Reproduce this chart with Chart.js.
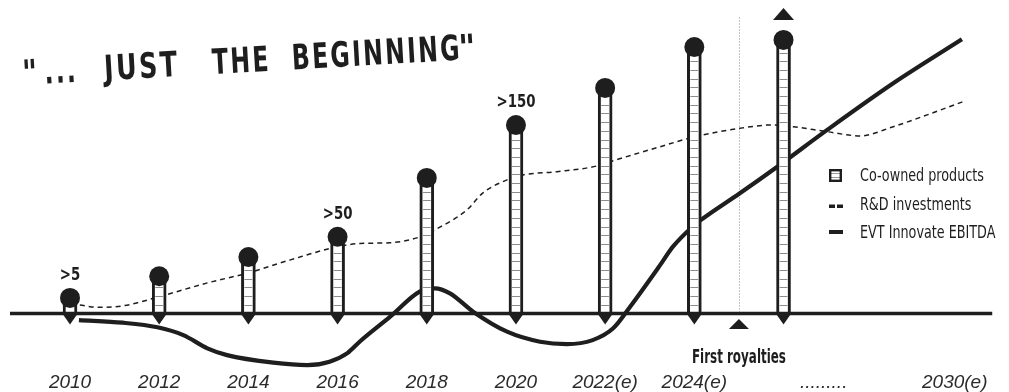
<!DOCTYPE html>
<html>
<head>
<meta charset="utf-8">
<title>Just the beginning</title>
<script src="https://cdn.jsdelivr.net/npm/chart.js@4.4.1/dist/chart.umd.min.js"></script>
<style>
  html, body { margin: 0; padding: 0; background: #ffffff; }
  #wrap { width: 1009px; height: 392px; position: relative; }
</style>
</head>
<body>
<div id="wrap"><canvas id="chart" width="1009" height="392"></canvas></div>
<script>
// ---- data -------------------------------------------------------------
// bar slots 0..8 on the x scale; the last bar is the 2030 outlook
const BAR_SLOTS = [0, 1, 2, 3, 4, 5, 6, 7, 8];
// co-owned products per milestone
const PRODUCTS = [13, 31, 47, 64, 113, 157, 188, 222, 228];
// thresholds printed above some bars as ">n"
const PRODUCT_FLOORS = [5, null, null, 50, null, 150, null, null, null];

// x-axis tick labels and where they sit on the slot scale
const TICK_SLOTS = [0, 1, 2, 3, 4, 5, 6, 7, 8.45, 9.92];
const TICK_LABELS = ['2010', '2012', '2014', '2016', '2018', '2020', '2022(e)', '2024(e)', '.........', '2030(e)'];

// R&D investments (index units)
const RD_X = [0.11, 0.31, 0.59, 1.0, 1.54, 2.0, 2.47, 3.0, 3.25, 3.59, 3.89, 4.11, 4.45, 4.63, 4.9, 5.08, 5.46, 5.91, 6.09, 6.61, 6.98, 7.51, 7.88, 8.11, 8.49, 8.86, 9.23, 9.61, 10.01];
const RD_Y = [4.3, 3.1, 3.8, 8.4, 15.3, 20.3, 26.8, 33.4, 35, 35.4, 37.8, 42.3, 51.8, 60.3, 66.8, 69.3, 70.9, 73.8, 76.4, 83.3, 88.1, 92.6, 94.3, 93.4, 90.9, 88.8, 93.4, 99.3, 105.9];

// EVT Innovate EBITDA (index units)
const EBITDA_X = [0.1, 0.59, 0.98, 1.27, 1.54, 1.76, 2.28, 2.66, 2.91, 3.11, 3.25, 3.59, 3.92, 4.09, 4.26, 4.52, 4.9, 5.27, 5.57, 5.86, 6.09, 6.28, 6.61, 6.76, 6.98, 7.1, 7.51, 7.93, 8.49, 9.23, 10.0];
const EBITDA_Y = [-3.3, -4.6, -6.9, -10.8, -17.4, -20.8, -24.6, -25.8, -24.1, -19.8, -14, -1.6, 10.9, 12.6, 10.1, 0.9, -9.1, -14.1, -15.3, -13.3, -7.4, 3.4, 23.8, 33.4, 43.4, 47.6, 60.1, 73.4, 91.8, 115.1, 137.1];

// first royalties marker
const FIRST_ROYALTIES_SLOT = 7.5;
const FIRST_ROYALTIES_TOP = 148;   // top of the dotted guide, money axis units

// headline words with their horizontal extent along the slanted baseline
const HEADLINE = [
  ['"', 1, 16], ['...', 23, 54], ['JUST', 83, 156], ['THE', 191, 241], ['BEGINNING', 271, 436], ['"', 438, 455]
];

// ---- look -------------------------------------------------------------
const INK = '#1e1e1e';
const NARROW = "'Liberation Sans Narrow', 'DejaVu Sans Condensed', 'Roboto', sans-serif";
const AXIS_FROM = -0.673, AXIS_TO = 10.34;   // span of the baseline on the slot scale

function pts(xs, ys) { return xs.map((x, i) => ({ x: x, y: ys[i] })); }

// draw text squeezed horizontally so that `ref` would take `refWidth` pixels
function narrowText(ctx, text, x, y, ref, refWidth) {
  const sx = Math.min(1, refWidth / ctx.measureText(ref).width);
  ctx.save();
  ctx.translate(x, y);
  ctx.scale(sx, 1);
  ctx.fillText(text, 0, 0);
  ctx.restore();
}

const decor = {
  id: 'decor',
  beforeDatasetsDraw(chart) {
    const ctx = chart.ctx;
    const xs = chart.scales.x, ym = chart.scales.yMoney;
    const y0 = ym.getPixelForValue(0);

    // headline, word by word along a rising baseline
    ctx.save();
    ctx.translate(22, 85);
    ctx.rotate(-3.3 * Math.PI / 180);
    ctx.fillStyle = INK;
    ctx.font = "bold 35px 'DejaVu Sans Condensed', 'DejaVu Sans', sans-serif";
    ctx.textBaseline = 'alphabetic';
    ctx.textAlign = 'left';
    HEADLINE.forEach(([word, from, to]) => {
      const gap = word.length > 1 ? 3 : 0;
      ctx.letterSpacing = gap + 'px';
      const w = ctx.measureText(word).width - gap;
      const sx = Math.max(0.75, Math.min(1.15, (to - from) / w));
      ctx.save();
      ctx.translate(from, 0);
      ctx.scale(sx, 1);
      ctx.fillText(word, 0, 0);
      ctx.restore();
    });
    ctx.restore();

    // dotted guide for first royalties
    const xr = xs.getPixelForValue(FIRST_ROYALTIES_SLOT);
    ctx.save();
    ctx.strokeStyle = '#8a8a8a';
    ctx.lineWidth = 1;
    ctx.setLineDash([1, 2]);
    ctx.beginPath();
    ctx.moveTo(Math.round(xr) + 0.5, ym.getPixelForValue(FIRST_ROYALTIES_TOP));
    ctx.lineTo(Math.round(xr) + 0.5, y0);
    ctx.stroke();
    ctx.restore();

    // first royalties marker + caption
    ctx.save();
    ctx.fillStyle = INK;
    ctx.beginPath();
    ctx.moveTo(xr, y0 + 5.5);
    ctx.lineTo(xr + 10, y0 + 15.5);
    ctx.lineTo(xr - 10, y0 + 15.5);
    ctx.closePath();
    ctx.fill();
    ctx.font = 'bold 19px ' + NARROW;
    ctx.textAlign = 'center';
    ctx.textBaseline = 'alphabetic';
    narrowText(ctx, 'First royalties', xr, y0 + 49.5, 'First royalties', 94);
    ctx.restore();

    // legend
    ctx.save();
    const lx = 829, rows = [181, 209.5, 237.5];
    ctx.fillStyle = INK;
    ctx.font = '17px ' + NARROW;
    ctx.textBaseline = 'alphabetic';
    ctx.textAlign = 'left';
    const items = chart.data.datasets.filter(d => d.legendText).sort((a, b) => a.legendRank - b.legendRank);
    items.forEach((d, i) => narrowText(ctx, d.legendText, 860, rows[i], 'Co-owned products', 124));
    // bar icon
    ctx.fillStyle = '#fff';
    ctx.fillRect(lx, 169, 13, 13);
    ctx.strokeStyle = '#9a9a9a';
    ctx.lineWidth = 1;
    ctx.beginPath();
    ctx.moveTo(lx + 2, 173.5); ctx.lineTo(lx + 11, 173.5);
    ctx.moveTo(lx + 2, 177.5); ctx.lineTo(lx + 11, 177.5);
    ctx.stroke();
    ctx.strokeStyle = INK;
    ctx.lineWidth = 2.4;
    ctx.strokeRect(lx + 1.2, 170.2, 10.6, 10.6);
    // dashed icon
    ctx.fillStyle = INK;
    ctx.fillRect(lx, 204.5, 6, 3.5);
    ctx.fillRect(lx + 8, 204.5, 6, 3.5);
    // solid icon
    ctx.fillRect(lx, 230, 14, 4);
    ctx.restore();
  },
  afterDatasetDraw(chart, args) {
    if (args.index !== 2) return;
    const ctx = chart.ctx;
    const ym = chart.scales.yMoney;
    const y0 = ym.getPixelForValue(0);
    const bars = chart.getDatasetMeta(2).data;

    // rungs inside each bar
    ctx.save();
    ctx.strokeStyle = '#8c8c8c';
    ctx.lineWidth = 1;
    bars.forEach(el => {
      const p = el.getProps(['x', 'y', 'base', 'width'], true);
      const l = p.x - p.width / 2 + 3, r = p.x + p.width / 2 - 3;
      ctx.beginPath();
      for (let y = p.base - 8.7; y > p.y; y -= 8.7) {
        const yy = Math.round(y) + 0.5;
        ctx.moveTo(l, yy); ctx.lineTo(r, yy);
      }
      ctx.stroke();
    });
    ctx.restore();

    // baseline
    const xs = chart.scales.x;
    ctx.save();
    ctx.strokeStyle = INK;
    ctx.lineWidth = 3.6;
    ctx.beginPath();
    ctx.moveTo(xs.getPixelForValue(AXIS_FROM), y0);
    ctx.lineTo(xs.getPixelForValue(AXIS_TO), y0);
    ctx.stroke();

    // pointers under each bar
    ctx.fillStyle = INK;
    bars.forEach(el => {
      const p = el.getProps(['x'], true);
      ctx.beginPath();
      ctx.moveTo(p.x - 7, y0 + 1);
      ctx.lineTo(p.x + 7, y0 + 1);
      ctx.lineTo(p.x, y0 + 11);
      ctx.closePath();
      ctx.fill();
    });
    ctx.restore();
  },
  afterDatasetsDraw(chart) {
    const ctx = chart.ctx;
    const heads = chart.getDatasetMeta(3).data;
    const r = chart.data.datasets[3].pointRadius;
    ctx.save();
    ctx.fillStyle = INK;
    ctx.font = 'bold 18px ' + NARROW;
    ctx.textAlign = 'center';
    ctx.textBaseline = 'middle';
    PRODUCT_FLOORS.forEach((f, i) => {
      if (f === null) return;
      const p = heads[i];
      narrowText(ctx, '>' + f, p.x, p.y - 22.5, '>150', 39);
    });
    // upside marker above the outlook bar
    const last = heads[heads.length - 1];
    const base = last.y - r - 10;
    ctx.beginPath();
    ctx.moveTo(last.x - 10.5, base);
    ctx.lineTo(last.x + 10.5, base);
    ctx.lineTo(last.x, base - 12);
    ctx.closePath();
    ctx.fill();
    ctx.restore();
  }
};

new Chart(document.getElementById('chart'), {
  type: 'bar',
  data: {
    datasets: [
      {
        type: 'line',
        label: 'R&D investments',
        legendText: 'R&D investments', legendRank: 1,
        data: pts(RD_X, RD_Y),
        yAxisID: 'yMoney',
        borderColor: INK,
        borderWidth: 1.5,
        borderDash: [5, 4],
        pointRadius: 0,
        cubicInterpolationMode: 'monotone',
        order: 3
      },
      {
        type: 'line',
        label: 'EVT Innovate EBITDA',
        legendText: 'EVT Innovate EBITDA', legendRank: 2,
        data: pts(EBITDA_X, EBITDA_Y),
        yAxisID: 'yMoney',
        borderColor: INK,
        borderWidth: 4.2,
        borderJoinStyle: 'round',
        pointRadius: 0,
        cubicInterpolationMode: 'monotone',
        order: 3
      },
      {
        type: 'bar',
        label: 'Co-owned products',
        legendText: 'Co-owned products', legendRank: 0,
        data: pts(BAR_SLOTS, PRODUCTS),
        yAxisID: 'yProducts',
        backgroundColor: '#ffffff',
        borderColor: INK,
        borderWidth: 3,
        borderSkipped: 'start',
        barThickness: 14,
        grouped: false,
        order: 2
      },
      {
        type: 'line',
        label: 'heads',
        data: pts(BAR_SLOTS, PRODUCTS),
        yAxisID: 'yProducts',
        showLine: false,
        pointRadius: 10,
        pointHoverRadius: 10,
        pointBorderWidth: 0,
        pointBackgroundColor: INK,
        order: 1
      }
    ]
  },
  options: {
    responsive: false,
    animation: false,
    devicePixelRatio: 1,
    layout: { padding: 0, autoPadding: false },
    events: [],
    plugins: { legend: { display: false }, tooltip: { enabled: false }, title: { display: false } },
    scales: {
      x: {
        type: 'linear',
        min: -0.785,
        max: 10.528,
        offset: false,
        grid: { display: false, drawTicks: false },
        border: { display: false },
        afterBuildTicks: s => { s.ticks = TICK_SLOTS.map(v => ({ value: v })); },
        ticks: {
          autoSkip: false,
          maxRotation: 0,
          padding: 0,
          color: '#2b2b2b',
          font: { family: "'Liberation Sans', 'Arial', sans-serif", size: 19, style: 'italic', lineHeight: 1 },
          callback: (v, i) => TICK_LABELS[i]
        }
      },
      yProducts: { type: 'linear', display: false, min: -49.58, max: 261.25 },
      yMoney: { type: 'linear', display: false, min: -29.75, max: 156.75 }
    }
  },
  plugins: [decor]
});
</script>
</body>
</html>
